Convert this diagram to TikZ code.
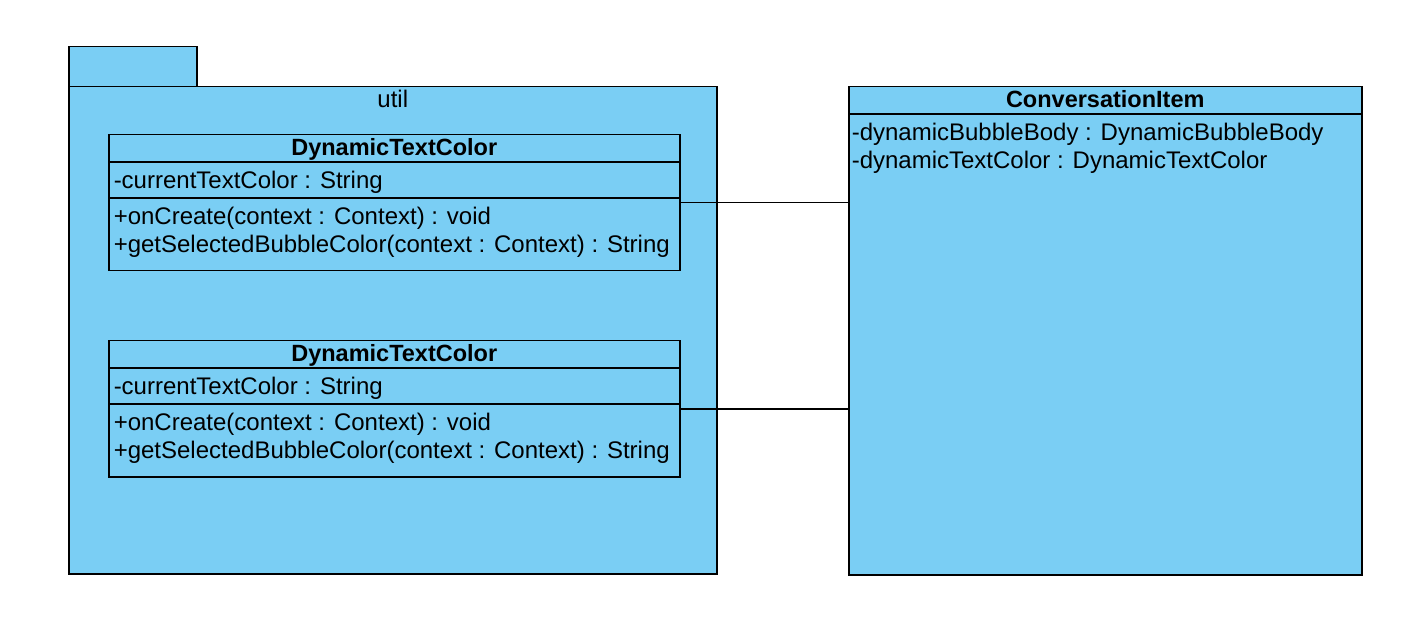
\documentclass[tikz,border=0pt]{standalone}
\usepackage{fontspec}
\setmainfont{Liberation Sans}
\usepackage{tikz}
\usetikzlibrary{calc}
\definecolor{umlblue}{RGB}{122,206,244}

\begin{document}
\begin{tikzpicture}[x=1pt,y=-1pt,line width=1.5pt,
    box/.style={draw,fill=umlblue,anchor=north west,inner sep=0pt},
    txt/.style={anchor=west,inner sep=0pt,text height=17pt,text depth=4pt,font=\fontsize{24}{28}\selectfont},
    head/.style={txt,anchor=center,font=\fontsize{23.5}{28}\selectfont\bfseries}]
    \useasboundingbox (0,0) rectangle (1422,620);

    % package util
    \node[box,minimum width=128pt,minimum height=40pt] (tab) at (68,46) {};
    \node[box,minimum width=648pt,minimum height=487pt] (util) at (68,86) {};
    \node[txt,anchor=center] (utilname) at ($(util.north)+(0,15)$) {util};

    % first class
    \node[box,minimum width=571pt,minimum height=136pt] (dtc1) at (108,134) {};
    \draw ($(dtc1.north west)+(0,28)$) -- ($(dtc1.north east)+(0,28)$);
    \draw ($(dtc1.north west)+(0,64)$) -- ($(dtc1.north east)+(0,64)$);
    \node[head] (dtc1name) at ($(dtc1.north)+(0,15)$) {DynamicTextColor};
    \node[txt] (dtc1attr) at ($(dtc1.north west)+(5,48)$) {-currentTextColor : String};
    \node[txt] (dtc1op1) at ($(dtc1.north west)+(5,84)$) {+onCreate(context : Context) : void};
    \node[txt] (dtc1op2) at ($(dtc1.north west)+(5,112)$) {+getSelectedBubbleColor(context : Context) : String};

    % second class
    \node[box,minimum width=571pt,minimum height=136pt] (dtc2) at (108,340) {};
    \draw ($(dtc2.north west)+(0,28)$) -- ($(dtc2.north east)+(0,28)$);
    \draw ($(dtc2.north west)+(0,64)$) -- ($(dtc2.north east)+(0,64)$);
    \node[head] (dtc2name) at ($(dtc2.north)+(0,15)$) {DynamicTextColor};
    \node[txt] (dtc2attr) at ($(dtc2.north west)+(5,48)$) {-currentTextColor : String};
    \node[txt] (dtc2op1) at ($(dtc2.north west)+(5,84)$) {+onCreate(context : Context) : void};
    \node[txt] (dtc2op2) at ($(dtc2.north west)+(5,112)$) {+getSelectedBubbleColor(context : Context) : String};

    % ConversationItem
    \node[box,minimum width=513pt,minimum height=488pt] (conv) at (848,86) {};
    \draw ($(conv.north west)+(0,28)$) -- ($(conv.north east)+(0,28)$);
    \node[head] (convname) at ($(conv.north)+(0,15)$) {ConversationItem};
    \node[txt] (convattr1) at ($(conv.north west)+(3,48)$) {-dynamicBubbleBody : DynamicBubbleBody};
    \node[txt] (convattr2) at ($(conv.north west)+(3,76)$) {-dynamicTextColor : DynamicTextColor};

    \draw (dtc1.east) -- (conv.west |- dtc1.east);
    \draw (dtc2.east) -- (conv.west |- dtc2.east);
\end{tikzpicture}
\end{document}
